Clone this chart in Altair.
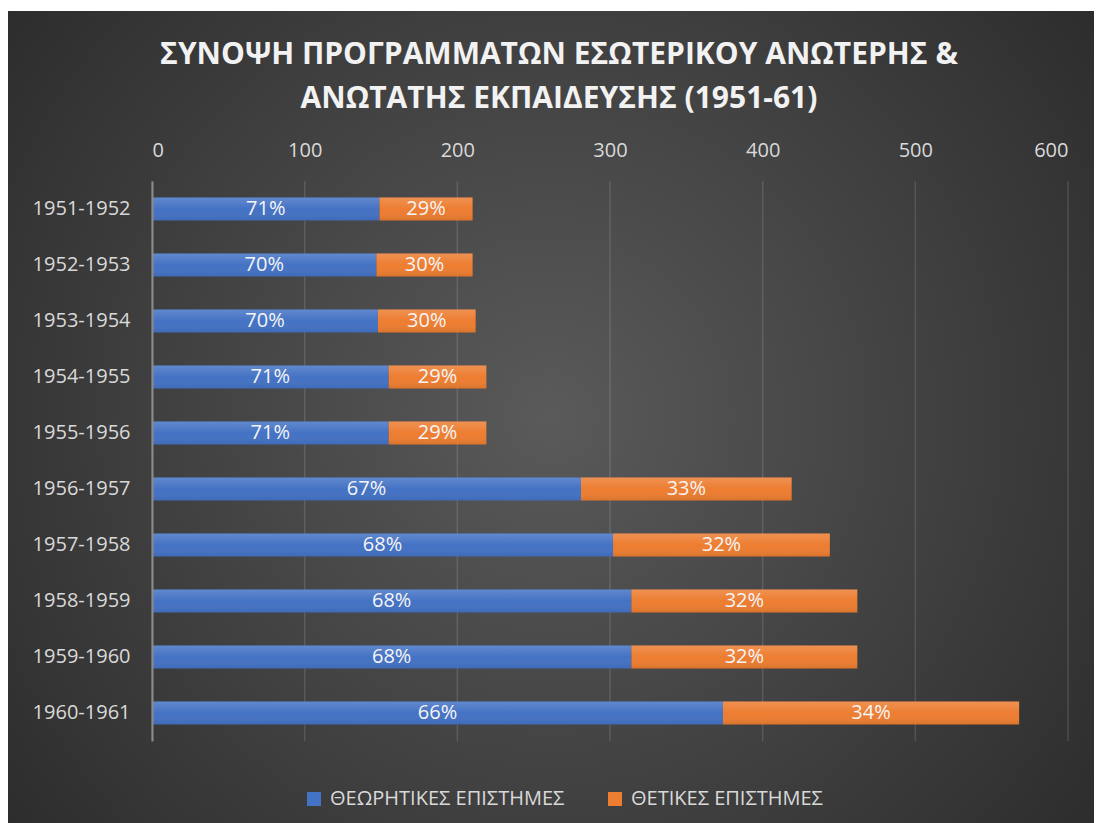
import altair as alt
import pandas as pd

periods = ["1951-1952", "1952-1953", "1953-1954", "1954-1955", "1955-1956",
           "1956-1957", "1957-1958", "1958-1959", "1959-1960", "1960-1961"]
theory = [149, 147, 148, 155, 155, 281, 302, 314, 314, 374]
science = [61, 63, 64, 64, 64, 138, 142, 148, 148, 194]
series_names = ["ΘΕΩΡΗΤΙΚΕΣ ΕΠΙΣΤΗΜΕΣ", "ΘΕΤΙΚΕΣ ΕΠΙΣΤΗΜΕΣ"]
series_colors = ["#4472C4", "#ED7D31"]
x_ticks = [0, 100, 200, 300, 400, 500, 600]
title_lines = ["ΣΥΝΟΨΗ ΠΡΟΓΡΑΜΜΑΤΩΝ ΕΣΩΤΕΡΙΚΟΥ ΑΝΩΤΕΡΗΣ &",
               "ΑΝΩΤΑΤΗΣ ΕΚΠΑΙΔΕΥΣΗΣ (1951-61)"]

rows = []
for p, a, b in zip(periods, theory, science):
    rows.append({"period": p, "series": series_names[0], "order": 0, "value": a})
    rows.append({"period": p, "series": series_names[1], "order": 1, "value": b})
df = pd.DataFrame(rows)
ticks_df = pd.DataFrame({"tick": x_ticks})

FONT = "Open Sans"

bg = alt.Chart(alt.Data(values=[{}])).mark_rect(
    fill={
        "gradient": "radial",
        "x1": 0.5, "y1": 0.5, "r1": 0,
        "x2": 0.5, "y2": 0.5, "r2": 0.72,
        "stops": [
            {"offset": 0, "color": "#5a5a5a"},
            {"offset": 1, "color": "#262626"},
        ],
    }
).encode(
    x=alt.value(-144), x2=alt.value(942), y=alt.value(-170), y2=alt.value(642)
)

x_scale = alt.Scale(domain=[0, 600], nice=False)
x_axis = alt.Axis(orient="top", values=x_ticks, title=None,
                  domain=False, ticks=False, tickSize=0, grid=False,
                  labelFont=FONT, labelFontSize=20, labelColor="#d9d9d9",
                  labelPadding=21, zindex=1)

grid = alt.Chart(ticks_df).mark_rule(color="#ffffff", opacity=0.13, strokeWidth=1.5).encode(
    x=alt.X("tick:Q", scale=x_scale, axis=x_axis),
    y=alt.value(0), y2=alt.value(560),
)

y_enc = alt.Y(
    "period:N", sort=periods,
    scale=alt.Scale(paddingInner=0.59, paddingOuter=0.295),
    axis=alt.Axis(title=None, ticks=False, tickSize=0, domain=True,
                  domainColor="#8c8c8c", domainWidth=2, grid=False,
                  labelFont=FONT, labelFontSize=20, labelColor="#d9d9d9",
                  labelPadding=22, zindex=1),
)

bars = alt.Chart(df).mark_bar().encode(
    y=y_enc,
    x=alt.X("value:Q", stack="zero", scale=x_scale, axis=x_axis),
    color=alt.Color("series:N",
                    scale=alt.Scale(domain=series_names, range=series_colors),
                    legend=alt.Legend(title=None, orient="none", direction="horizontal",
                                      legendX=152, legendY=608,
                                      symbolType="square", symbolSize=196,
                                      symbolStrokeWidth=0, labelLimit=600,
                                      labelFont=FONT, labelFontSize=20,
                                      labelColor="#d9d9d9", columnPadding=40,
                                      labelOffset=6)),
    order=alt.Order("order:Q"),
)

gloss = alt.Chart(df).mark_bar(
    fill={
        "gradient": "linear", "x1": 0, "y1": 0, "x2": 0, "y2": 1,
        "stops": [
            {"offset": 0, "color": "rgba(255,255,255,0.16)"},
            {"offset": 0.5, "color": "rgba(255,255,255,0.0)"},
            {"offset": 1, "color": "rgba(0,0,0,0.08)"},
        ],
    }
).encode(
    y=alt.Y("period:N", sort=periods),
    x=alt.X("value:Q", stack="zero", scale=x_scale, axis=x_axis),
    detail="series:N",
    order=alt.Order("order:Q"),
)

labels = alt.Chart(df).transform_stack(
    stack="value", groupby=["period"], as_=["v0", "v1"],
    sort=[alt.SortField("order", order="ascending")]
).transform_joinaggregate(
    total="sum(value)", groupby=["period"]
).transform_calculate(
    mid="(datum.v0 + datum.v1) / 2",
    pct="datum.value / datum.total",
).mark_text(font=FONT, fontSize=20, color="#f5f5f5", baseline="middle",
            align="center").encode(
    y=alt.Y("period:N", sort=periods),
    x=alt.X("mid:Q", scale=x_scale, axis=x_axis),
    text=alt.Text("pct:Q", format=".0%"),
)

chart = alt.layer(bg, grid, bars, gloss, labels).properties(
    width=916, height=560,
    padding={"left": 144, "top": 173, "right": 26, "bottom": 82},
    autosize=alt.AutoSizeParams(type="none"),
    title=alt.TitleParams(text=title_lines, font=FONT, fontSize=30,
                          fontWeight="bold", color="#f2f2f2", lineHeight=44,
                          anchor="middle", dx=-51, offset=-103),
).configure(background="#ffffff").configure_view(stroke="transparent")

chart.save("out.html", embed_options={"renderer": "svg", "actions": False})
